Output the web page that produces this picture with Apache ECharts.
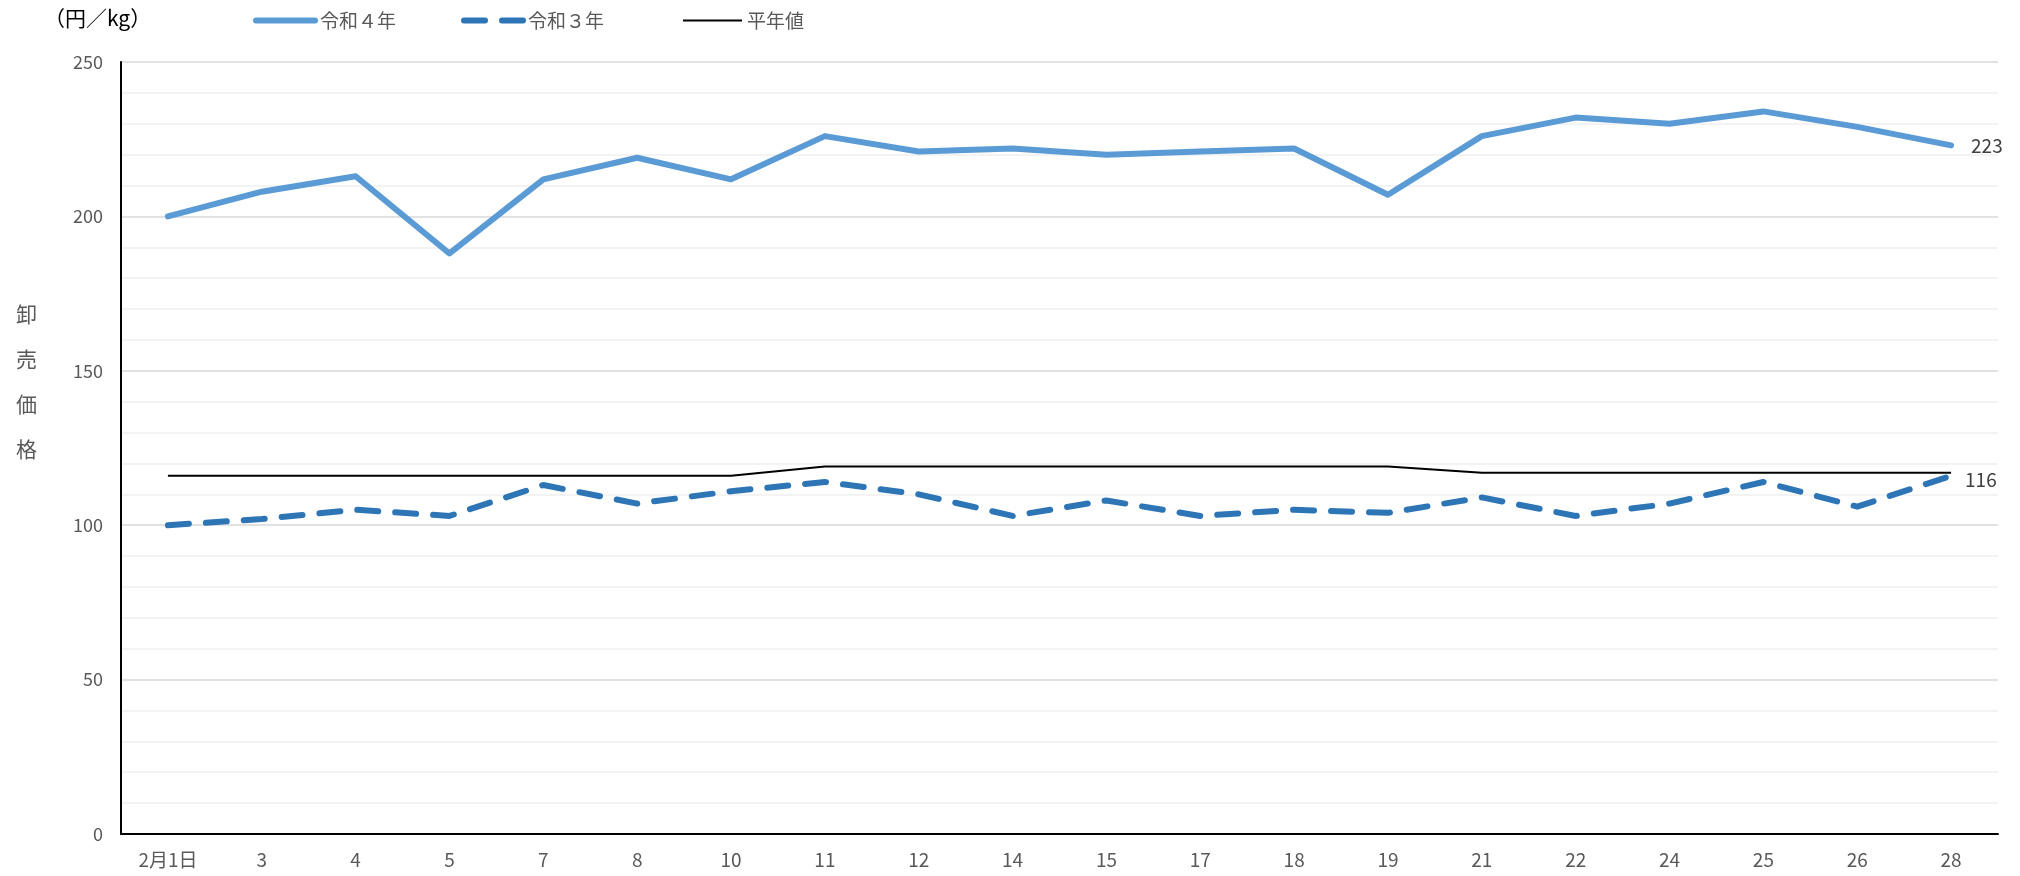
<!DOCTYPE html>
<html><head><meta charset="utf-8">
<script src="https://cdn.jsdelivr.net/npm/echarts@6/dist/echarts.min.js"></script>
<style>html,body{margin:0;padding:0;background:#fff}#c{width:2020px;height:876px}</style>
</head><body><div id="c"></div>
<script>
const categories = ['2月1日','3','4','5','7','8','10','11','12','14','15','17','18','19','21','22','24','25','26','28'];
const r4 = [200,208,213,188,212,219,212,226,221,222,220,221,222,207,226,232,230,234,229,223];
const r3 = [100,102,105,103,113,107,111,114,110,103,108,103,105,104,109,103,107,114,106,116];
const heinen = [116,116,116,116,116,116,116,119,119,119,119,119,119,119,117,117,117,117,117,117];
const seriesNames = ['令和４年','令和３年','平年値'];
const yTicks = [0,50,100,150,200,250];

const jp = '"Noto Sans CJK JP", sans-serif';
const narrow = '"Liberation Sans Narrow", "Noto Sans CJK JP", sans-serif';

const chart = echarts.init(document.getElementById('c'), null, {renderer:'canvas'});
const legendBase = {itemWidth:59, itemHeight:14, top:6, itemGap:0,
  textStyle:{fontFamily:jp, fontSize:19, color:'#595959'},
  itemStyle:{opacity:0}};
const dash = [21,17];
chart.setOption({
  animation:false,
  backgroundColor:'#fff',
  grid:{left:121, right:22, top:62, bottom:42, containLabel:false},
  legend:[
    Object.assign({}, legendBase, {left:248, data:[seriesNames[0]], lineStyle:{width:6, cap:'round'}}),
    Object.assign({}, legendBase, {left:456, data:[seriesNames[1]], lineStyle:{width:6, type:dash, cap:'round'}}),
    Object.assign({}, legendBase, {left:677, data:[seriesNames[2]], lineStyle:{width:2}})
  ],
  graphic:[
    {type:'text', left:44, top:8, style:{text:'（円／kg）', font:'21px ' + jp, fill:'#000'}},
    {type:'text', left:16, top:292, style:{text:'卸\n売\n価\n格', font:'21px ' + jp, fill:'#595959', lineHeight:45}}
  ],
  xAxis:{
    type:'category', data:categories, boundaryGap:true,
    axisLine:{lineStyle:{color:'#000', width:2}},
    axisTick:{show:false},
    axisLabel:{fontFamily:narrow, fontSize:19, color:'#595959', margin:16, interval:0}
  },
  yAxis:{
    type:'value', min:yTicks[0], max:yTicks[yTicks.length-1], interval:50,
    axisLine:{show:true, lineStyle:{color:'#000', width:2}},
    axisTick:{show:false},
    axisLabel:{fontFamily:jp, fontSize:18, color:'#595959', margin:18},
    splitLine:{lineStyle:{color:'#d9d9d9', width:1.5}},
    minorTick:{show:false, splitNumber:5},
    minorSplitLine:{show:true, lineStyle:{color:'#f0f0f0', width:1.5}}
  },
  series:[
    {name:seriesNames[0], type:'line', data:r4, symbol:'none', z:3,
     lineStyle:{color:'#5B9BD5', width:6, cap:'round', join:'round'}, itemStyle:{color:'#5B9BD5'},
     endLabel:{show:true, distance:20, fontFamily:narrow, fontSize:19, color:'#404040', formatter:'{c}'}},
    {name:seriesNames[1], type:'line', data:r3, symbol:'none', z:3,
     lineStyle:{color:'#2E75B6', width:6, type:dash, cap:'round', join:'round'}, itemStyle:{color:'#2E75B6'},
     endLabel:{show:true, distance:14, offset:[0,4], fontFamily:narrow, fontSize:19, color:'#404040', formatter:'{c}'}},
    {name:seriesNames[2], type:'line', data:heinen, symbol:'none', z:2,
     lineStyle:{color:'#000', width:2}, itemStyle:{color:'#000'}}
  ]
});
</script></body></html>
